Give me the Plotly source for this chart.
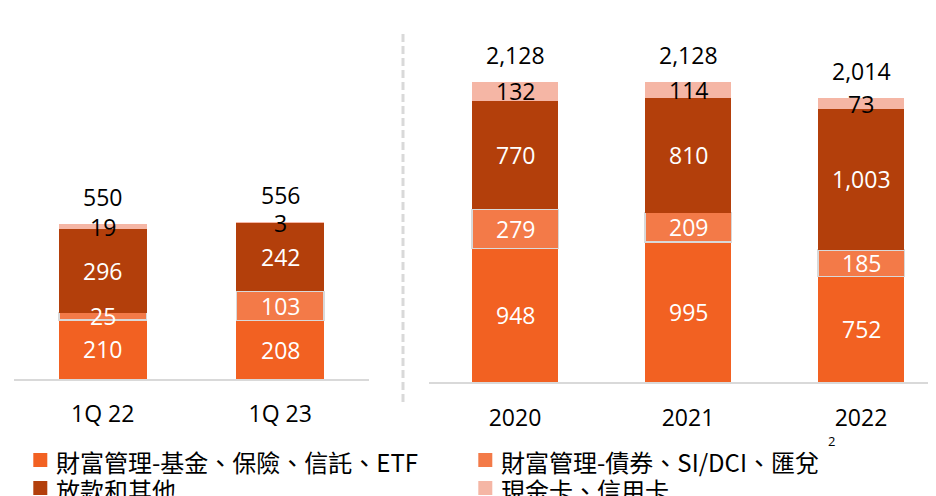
import plotly.graph_objects as go

# ---- data ----
cats_q = ["1Q 22", "1Q 23"]
cats_y = ["2020", "2021", "2022"]
series_names = ["財富管理-基金、保險、信託、ETF", "財富管理-債券、SI/DCI、匯兌", "放款和其他", "現金卡、信用卡"]
fund_q = [210, 208]
bond_q = [25, 103]
loan_q = [296, 242]
card_q = [19, 3]
total_q = [550, 556]
fund_y = [948, 995, 752]
bond_y = [279, 209, 185]
loan_y = [770, 810, 1003]
card_y = [132, 114, 73]
total_y = [2128, 2128, 2014]

colors = ["#F26122", "#F37A48", "#B33F0B", "#F5B6A5"]
line_colors = ["rgba(0,0,0,0)", "#D9D9D9", "rgba(0,0,0,0)", "rgba(0,0,0,0)"]
label_colors = ["white", "white", "white", "black"]

# page body has an 8px margin: size the figure to fit the window and map window px to paper
OFF = 8
W, H = 936 - OFF, 496 - OFF


def px(x):
    return (x - OFF) / W


def py(y):
    return (H - (y - OFF)) / H


fig = go.Figure()

groups = [
    (cats_q, [fund_q, bond_q, loan_q, card_q], total_q, "x", "y", 0.495),
    (cats_y, [fund_y, bond_y, loan_y, card_y], total_y, "x2", "y2", 0.5),
]

annotations = []
for cats, series, totals, xa, ya, bw in groups:
    base = [0] * len(cats)
    for i, vals in enumerate(series):
        fig.add_trace(go.Bar(
            x=cats, y=vals, name=series_names[i], xaxis=xa, yaxis=ya,
            marker=dict(color=colors[i], line=dict(color=line_colors[i], width=1.5)),
            width=bw, showlegend=False, hoverinfo="skip",
        ))
        for j, v in enumerate(vals):
            annotations.append(dict(
                x=j, y=base[j] + v / 2, xref=xa, yref=ya, text=f"{v:,}",
                showarrow=False, yanchor="middle",
                font=dict(size=23, color=label_colors[i], family="Open Sans"),
            ))
            base[j] += v
    for j, t in enumerate(totals):
        annotations.append(dict(
            x=j, y=t, xref=xa, yref=ya, text=f"{t:,}", showarrow=False,
            yanchor="middle", yshift=27,
            font=dict(size=23, color="black", family="Open Sans"),
        ))

# legend (2 x 2 grid, second row cut by the bottom edge as in the reference)
shapes = []
legend_pos = [(33.3, 460), (478.3, 460), (33.3, 488), (478.3, 488)]
for i, (lx, ly) in enumerate(legend_pos):
    shapes.append(dict(type="rect", xref="paper", yref="paper",
                       x0=px(lx), x1=px(lx + 14), y0=py(ly + 7), y1=py(ly - 7),
                       fillcolor=colors[i], line=dict(width=0)))
    annotations.append(dict(
        x=px(lx + 21), y=py(ly + 1), xref="paper", yref="paper", text=series_names[i],
        showarrow=False, xanchor="left", yanchor="middle",
        font=dict(size=24, color="black", family="Noto Sans CJK TC"),
    ))

annotations.append(dict(
    x=px(837), y=py(452), xref="paper", yref="paper", text="2",
    showarrow=False, font=dict(size=13, color="black", family="Open Sans"),
))

shapes.append(dict(type="line", xref="paper", yref="paper", x0=px(403), x1=px(403),
                   y0=py(402), y1=py(32),
                   line=dict(color="#D9D9D9", width=3, dash="8px,4px")))

axis_common = dict(type="category", showline=True, linecolor="#D9D9D9", linewidth=1.5,
                   showgrid=False, zeroline=False, ticks="", ticklabelstandoff=14,
                   fixedrange=True,
                   tickfont=dict(size=23, color="black", family="Open Sans"))
yaxis_common = dict(visible=False, showgrid=False, zeroline=False, fixedrange=True)

base_left = 379 - OFF
base_right = 382.3 - OFF

fig.update_layout(
    width=W, height=H, autosize=False,
    margin=dict(l=0, r=0, t=0, b=0, autoexpand=False),
    paper_bgcolor="white", plot_bgcolor="white",
    barmode="stack", showlegend=False,
    font=dict(family="Open Sans, Noto Sans CJK TC", color="black"),
    xaxis=dict(domain=[px(14), px(369)], range=[-0.5, 1.5], anchor="y", **axis_common),
    yaxis=dict(domain=[py(379), 1], range=[0, base_left / 0.282], anchor="x", **yaxis_common),
    xaxis2=dict(domain=[px(428.5), 1], range=[-0.5, -0.5 + (W - (428.5 - OFF)) / 173],
                anchor="y2", **axis_common),
    yaxis2=dict(domain=[py(382.3), 1], range=[0, base_right / 0.141], anchor="x2", **yaxis_common),
    annotations=annotations,
    shapes=shapes,
)

fig.write_html("out.html")
